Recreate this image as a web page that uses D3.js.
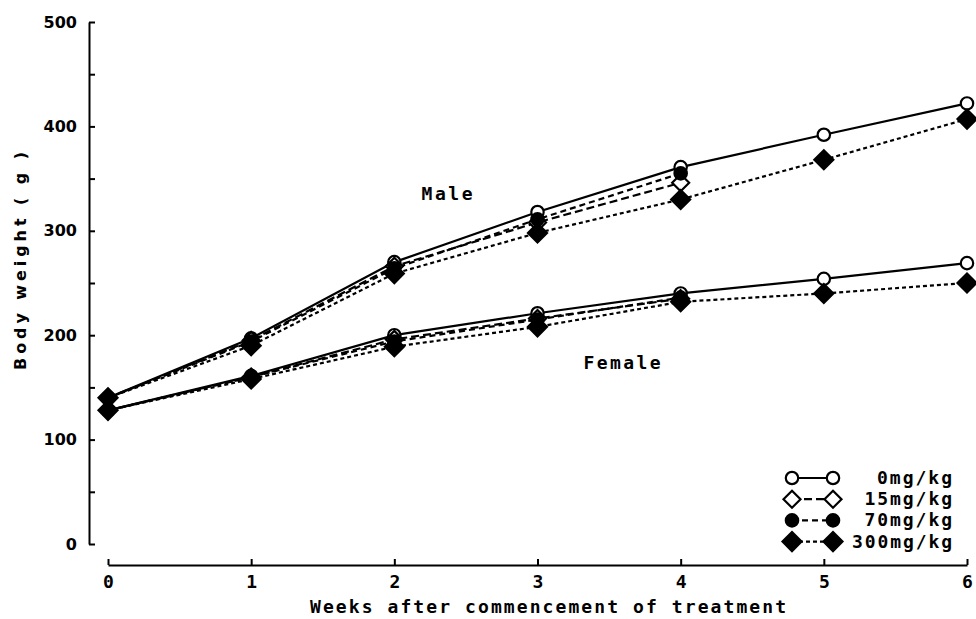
<!DOCTYPE html>
<html><head><meta charset="utf-8">
<script src="https://cdn.jsdelivr.net/npm/d3@7"></script>
<style>
body{margin:0;background:#fff}
.pix{font-family:"DejaVu Sans Mono",monospace;font-weight:bold;fill:#000}
.num{font-family:"DejaVu Sans",sans-serif;font-weight:bold;fill:#000}
</style></head>
<body><svg id="c" width="976" height="619"></svg>
<script>
const weeks = [0,1,2,3,4,5,6];
const yTicks = [0,50,100,150,200,250,300,350,400,450,500];
const male0   = [140,197,270,318,361,392,422];
const male15  = [140,195,266,308,346];
const male70  = [140,194,264,311,355];
const male300 = [140,190,259,298,330,368,407];
const female0   = [128,161,200,221,240,254,269];
const female15  = [128,160,196,216,235];
const female70  = [128,160,194,215,236];
const female300 = [128,158,189,208,232,240,250];
const doseLabels = ["0mg/kg","15mg/kg","70mg/kg","300mg/kg"];
const xTitle = "Weeks after commencement of treatment";
const yTitle = "Body weight ( g )";

const svg = d3.select("#c");
const x = d3.scaleLinear([0,6],[108,967]);
const y = d3.scaleLinear([0,500],[544,22]);

const styles = [
  {dash:null, marker:"circle", fill:"#fff"},
  {dash:"8,4", marker:"diamond", fill:"#fff"},
  {dash:"6,4", marker:"circle", fill:"#000"},
  {dash:"4,3", marker:"diamond", fill:"#000"}
];
const series = [
  {s:0,v:male0},{s:1,v:male15},{s:2,v:male70},{s:3,v:male300},
  {s:0,v:female0},{s:1,v:female15},{s:2,v:female70},{s:3,v:female300}
];

// y axis
const ya = svg.append("g").attr("transform","translate(89,0)")
  .call(d3.axisLeft(y).tickValues(yTicks).tickSizeInner(-6).tickSizeOuter(0).tickPadding(12)
    .tickFormat(d => d % 100 === 0 ? d : ""));
ya.selectAll("path,line").attr("stroke","#000").attr("stroke-width",2);
ya.selectAll("text").style("font-size","16px").style("font-family","DejaVu Sans").style("font-weight","bold").style("fill","#000");

// x axis
const xa = svg.append("g").attr("transform","translate(0,565)")
  .call(d3.axisBottom(x).tickValues(weeks).tickSizeInner(-6).tickSizeOuter(0).tickPadding(10).tickFormat(d3.format("d")));
xa.selectAll("path,line").attr("stroke","#000").attr("stroke-width",2);
xa.selectAll("text").style("font-size","18px").style("font-family","DejaVu Sans Mono").style("font-weight","bold").style("fill","#000");

const line = d3.line().x((d,i)=>x(weeks[i])).y(d=>y(d));
function marker(g, st){
  if (st.marker === "circle") {
    g.append("circle").attr("r",6.2).attr("fill",st.fill).attr("stroke","#000").attr("stroke-width",2.2);
  } else {
    const r = st.fill === "#000" ? 9.5 : 8.5;
    g.append("path").attr("d",`M0,${-r}L${r},0L0,${r}L${-r},0Z`).attr("fill",st.fill).attr("stroke","#000").attr("stroke-width",2.2);
  }
}

// lines
series.forEach(se => {
  const st = styles[se.s];
  svg.append("path").datum(se.v).attr("d",line).attr("fill","none").attr("stroke","#000")
    .attr("stroke-width",2.2).attr("stroke-dasharray",st.dash);
});
// markers
series.forEach(se => {
  const st = styles[se.s];
  se.v.forEach((d,i) => {
    const g = svg.append("g").attr("transform",`translate(${x(weeks[i])},${y(d)})`);
    marker(g, st);
  });
});

// labels
svg.append("text").attr("class","pix").attr("x",447).attr("y",200).attr("text-anchor","middle")
  .style("font-size","18px").attr("textLength",51).attr("lengthAdjust","spacing").text("Male");
svg.append("text").attr("class","pix").attr("x",622).attr("y",369).attr("text-anchor","middle")
  .style("font-size","18px").attr("textLength",77).attr("lengthAdjust","spacing").text("Female");

// titles
svg.append("text").attr("class","pix").attr("x",548).attr("y",613).attr("text-anchor","middle")
  .style("font-size","18px").attr("textLength",476).attr("lengthAdjust","spacing").text(xTitle);
svg.append("text").attr("class","num").attr("transform","translate(26,261) rotate(-90)").attr("text-anchor","middle")
  .style("font-size","16px").attr("textLength",218).attr("lengthAdjust","spacing").text(yTitle);

// legend
doseLabels.forEach((lab,i) => {
  const st = styles[i];
  const cy = 478 + i*21.2;
  const lg = svg.append("g");
  lg.append("line").attr("x1",792).attr("x2",833).attr("y1",cy).attr("y2",cy)
    .attr("stroke","#000").attr("stroke-width",2.2).attr("stroke-dasharray",st.dash);
  marker(lg.append("g").attr("transform",`translate(792,${cy})`), st);
  marker(lg.append("g").attr("transform",`translate(833,${cy})`), st);
  lg.append("text").attr("class","pix").attr("x",952).attr("y",cy+6).attr("text-anchor","end")
    .style("font-size","18px").attr("textLength",lab.length*12.5).attr("lengthAdjust","spacing").text(lab);
});
</script></body></html>
